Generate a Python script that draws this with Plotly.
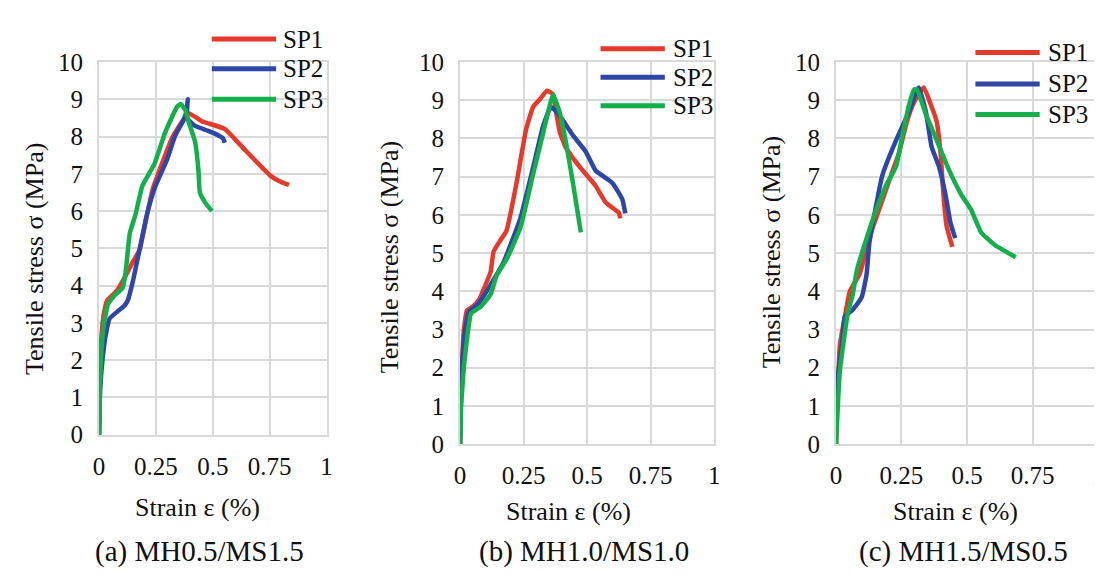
import plotly.graph_objects as go

# ---------------- data ----------------
series_names = ["SP1", "SP2", "SP3"]
panel_captions = ["(a) MH0.5/MS1.5", "(b) MH1.0/MS1.0", "(c) MH1.5/MS0.5"]
x_tick_vals = [0, 0.25, 0.5, 0.75, 1]
x_tick_text = ["0", "0.25", "0.5", "0.75", "1"]
y_tick_vals = [0, 1, 2, 3, 4, 5, 6, 7, 8, 9, 10]

# panel (a)
a_sp1_strain = [0, 0.003, 0.01, 0.02, 0.035, 0.06, 0.083, 0.12, 0.148, 0.178, 0.235, 0.32, 0.37, 0.395, 0.452, 0.553, 0.64, 0.757, 0.8, 0.835]
a_sp1_stress = [0, 1.5, 2.6, 3.2, 3.6, 3.75, 3.9, 4.3, 4.63, 4.96, 6.57, 7.95, 8.45, 8.62, 8.41, 8.2, 7.65, 6.93, 6.78, 6.70]
a_sp2_strain = [0, 0.005, 0.015, 0.03, 0.047, 0.08, 0.11, 0.126, 0.148, 0.178, 0.21, 0.248, 0.3, 0.335, 0.373, 0.385, 0.39, 0.387, 0.42, 0.48, 0.525, 0.545, 0.553]
a_sp2_stress = [0, 1.2, 2.0, 2.7, 3.12, 3.3, 3.45, 3.6, 4.1, 4.96, 5.9, 6.67, 7.4, 8.03, 8.46, 8.7, 9.0, 8.49, 8.29, 8.15, 8.03, 7.95, 7.83]
a_sp3_strain = [0, 0.004, 0.01, 0.02, 0.039, 0.07, 0.104, 0.117, 0.135, 0.16, 0.19, 0.243, 0.29, 0.343, 0.36, 0.38, 0.395, 0.422, 0.437, 0.443, 0.465, 0.496]
a_sp3_stress = [0, 1.3, 2.2, 2.9, 3.5, 3.75, 3.94, 4.37, 5.4, 5.9, 6.67, 7.26, 8.1, 8.8, 8.87, 8.7, 8.37, 7.86, 7.08, 6.5, 6.24, 6.0]

# panel (b)
b_sp1_strain = [0, 0.003, 0.008, 0.015, 0.027, 0.05, 0.074, 0.1, 0.12, 0.132, 0.16, 0.183, 0.222, 0.26, 0.288, 0.315, 0.342, 0.366, 0.38, 0.393, 0.416, 0.47, 0.533, 0.572, 0.611, 0.625, 0.63]
b_sp1_stress = [0, 1.27, 2.2, 3.0, 3.5, 3.6, 3.77, 4.17, 4.5, 5.04, 5.35, 5.59, 6.83, 8.25, 8.83, 9.03, 9.25, 9.15, 8.6, 8.15, 7.76, 7.26, 6.76, 6.33, 6.13, 6.05, 5.91]
b_sp2_strain = [0, 0.004, 0.01, 0.02, 0.035, 0.06, 0.082, 0.12, 0.171, 0.237, 0.288, 0.327, 0.358, 0.393, 0.444, 0.494, 0.533, 0.6, 0.638, 0.65]
b_sp2_stress = [0, 1.4, 2.3, 3.0, 3.47, 3.6, 3.77, 4.17, 4.76, 5.91, 7.26, 8.33, 8.83, 8.58, 8.08, 7.66, 7.16, 6.83, 6.41, 6.04]
b_sp3_strain = [0, 0.004, 0.016, 0.03, 0.043, 0.082, 0.12, 0.144, 0.183, 0.237, 0.288, 0.327, 0.354, 0.366, 0.393, 0.416, 0.444, 0.475]
b_sp3_stress = [0, 1.0, 2.1, 2.9, 3.42, 3.6, 3.92, 4.42, 4.84, 5.66, 7.08, 8.15, 8.9, 9.15, 8.65, 7.91, 6.83, 5.54]

# panel (c)
c_sp1_strain = [0, 0.008, 0.015, 0.034, 0.053, 0.09, 0.139, 0.177, 0.215, 0.241, 0.271, 0.298, 0.335, 0.362, 0.384, 0.399, 0.41, 0.422, 0.444]
c_sp1_stress = [0, 1.67, 2.6, 3.34, 4.0, 4.45, 5.64, 6.38, 7.13, 7.63, 8.45, 8.95, 9.33, 8.88, 8.45, 7.63, 6.53, 5.71, 5.16]
c_sp2_strain = [0, 0.003, 0.023, 0.034, 0.064, 0.098, 0.117, 0.128, 0.177, 0.23, 0.279, 0.305, 0.316, 0.343, 0.365, 0.392, 0.418, 0.437, 0.455]
c_sp2_stress = [0, 1.52, 2.6, 3.34, 3.52, 3.84, 4.45, 5.29, 7.03, 7.96, 8.7, 9.2, 9.33, 8.7, 7.78, 7.28, 6.53, 5.79, 5.39]
c_sp3_strain = [0, 0.015, 0.045, 0.064, 0.08, 0.117, 0.154, 0.192, 0.23, 0.252, 0.279, 0.298, 0.309, 0.343, 0.38, 0.429, 0.478, 0.516, 0.554, 0.606, 0.686]
c_sp3_stress = [0, 1.92, 3.42, 3.92, 4.55, 5.39, 6.13, 6.78, 7.28, 8.03, 8.88, 9.28, 9.28, 8.63, 8.03, 7.21, 6.53, 6.13, 5.54, 5.21, 4.89]

# ---------------- styling ----------------
W, H = 1102, 576
FONT = "Liberation Serif"
TXT = "#111111"
GRID = "#d9d9d9"
colors = ["#E5392B", "#2E46A6", "#12AF4B"]

panels = [
    [(a_sp1_strain, a_sp1_stress), (a_sp2_strain, a_sp2_stress), (a_sp3_strain, a_sp3_stress)],
    [(b_sp1_strain, b_sp1_stress), (b_sp2_strain, b_sp2_stress), (b_sp3_strain, b_sp3_stress)],
    [(c_sp1_strain, c_sp1_stress), (c_sp2_strain, c_sp2_stress), (c_sp3_strain, c_sp3_stress)],
]

# plot-area pixel boxes (left, right, top, bottom)
boxes = [(86, 316, 43, 434), (451, 708, 43, 444), (831, 1096, 43, 444)]
ytitle_pos = [(21, 250), (380, 248), (766, 243)]
xtitle_pos = [(186, 510), (561, 515), (952, 515)]
caption_pos = [(188, 557), (576, 557), (960, 557)]
legend_pos = [(200, 265, 270, [19, 50, 82]), (593, 658, 664, [29, 59, 89]), (972, 1037, 1043, [33, 66, 98])]

def px(x):
    return x / W

def py(y):
    return 1 - y / H

fig = go.Figure()
layout = dict(
    width=W, height=H,
    margin=dict(l=0, r=0, t=0, b=0),
    paper_bgcolor="white", plot_bgcolor="white",
    showlegend=False,
    font=dict(family=FONT, color=TXT, size=25),
)
annotations = []
shapes = []

for i, series in enumerate(panels):
    n = "" if i == 0 else str(i + 1)
    for j, (xs, ys) in enumerate(series):
        fig.add_trace(go.Scatter(
            x=xs, y=ys, mode="lines", name=series_names[j],
            line=dict(color=colors[j], width=4.5, shape="spline", smoothing=0.4),
            xaxis="x" + n, yaxis="y" + n,
        ))
    l, r, t, b = boxes[i]
    layout["xaxis" + n] = dict(
        domain=[px(l), px(r)], range=[0, 1], anchor="y" + n,
        tickvals=x_tick_vals, ticktext=x_tick_text,
        showgrid=True, gridcolor=GRID, gridwidth=2,
        showline=True, linecolor=GRID, linewidth=2, mirror=True,
        zeroline=False, ticks="", ticklabelstandoff=8,
        tickfont=dict(family=FONT, size=25, color=TXT),
    )
    layout["yaxis" + n] = dict(
        domain=[py(b), py(t)], range=[0, 10], anchor="x" + n,
        tickvals=y_tick_vals,
        showgrid=True, gridcolor=GRID, gridwidth=2,
        showline=True, linecolor=GRID, linewidth=2, mirror=True,
        zeroline=False, ticks="outside", ticklen=9, tickcolor="rgba(0,0,0,0)",
        tickfont=dict(family=FONT, size=25, color=TXT),
    )
    ax, ay = ytitle_pos[i]
    annotations.append(dict(text="Tensile stress σ (MPa)", x=px(ax), y=py(ay), xref="paper", yref="paper",
                            showarrow=False, textangle=-90, xanchor="center", yanchor="middle",
                            font=dict(family=FONT, size=26, color=TXT)))
    ax, ay = xtitle_pos[i]
    annotations.append(dict(text="Strain ε (%)", x=px(ax), y=py(ay), xref="paper", yref="paper",
                            showarrow=False, xanchor="center", yanchor="middle",
                            font=dict(family=FONT, size=26, color=TXT)))
    ax, ay = caption_pos[i]
    annotations.append(dict(text=panel_captions[i], x=px(ax), y=py(ay), xref="paper", yref="paper",
                            showarrow=False, xanchor="center", yanchor="middle",
                            font=dict(family=FONT, size=29, color=TXT)))
    # legend
    lx0, lx1, tx, ys_ = legend_pos[i]
    for j, name in enumerate(series_names):
        shapes.append(dict(type="line", xref="paper", yref="paper",
                           x0=px(lx0), x1=px(lx1), y0=py(ys_[j]), y1=py(ys_[j]),
                           line=dict(color=colors[j], width=5)))
        annotations.append(dict(text=name, x=px(tx), y=py(ys_[j]), xref="paper", yref="paper",
                                showarrow=False, xanchor="left", yanchor="middle",
                                font=dict(family=FONT, size=25, color=TXT)))

layout["annotations"] = annotations
layout["shapes"] = shapes
fig.update_layout(**layout)
fig.write_html("out.html")
